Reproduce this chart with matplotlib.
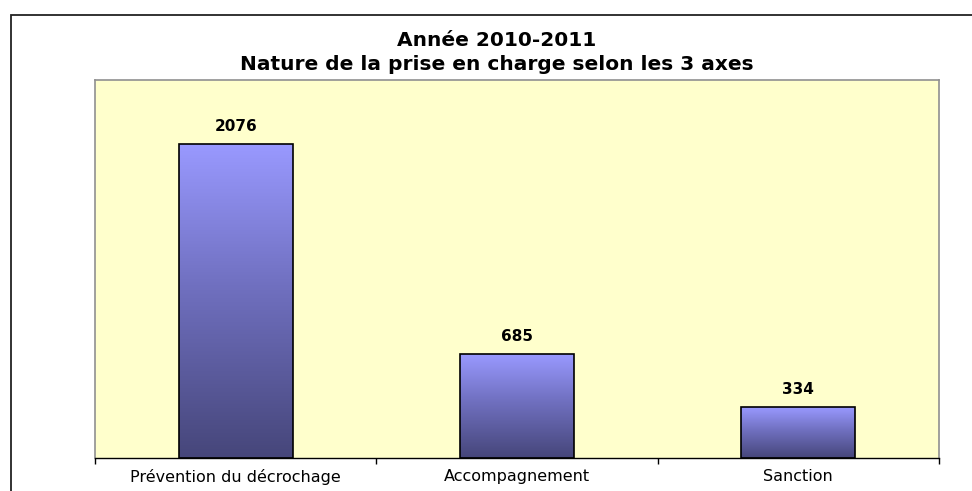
import matplotlib
matplotlib.use("Agg")
import matplotlib.pyplot as plt
import numpy as np
from matplotlib.colors import LinearSegmentedColormap
from matplotlib.patches import Rectangle

categories = ["Prévention du décrochage", "Accompagnement", "Sanction"]
values = [2076, 685, 334]
title_lines = ["Année 2010-2011", "Nature de la prise en charge selon les 3 axes"]

plt.rcParams['font.family'] = ['DejaVu Sans']

fig = plt.figure(figsize=(9.72, 4.91), dpi=100)
fig.patch.set_facecolor('white')
ax = fig.add_axes([95/972, 33/491, (939-95)/972, (458-80)/491])
ax.set_facecolor('#FFFFCC')

x = np.arange(len(categories))
bars = ax.bar(x, values, width=0.405, color='none', edgecolor='black', linewidth=1.2, zorder=3)

cmap = LinearSegmentedColormap.from_list('g', [(0, '#46467A'), (0.55, '#7070C0'), (1, '#9999FF')])
grad = np.linspace(0, 1, 256).reshape(-1, 1)
for b in bars:
    x0 = b.get_x(); w = b.get_width(); h = b.get_height()
    im = ax.imshow(grad, extent=[x0, x0 + w, 0, h], origin='lower', aspect='auto',
                   cmap=cmap, zorder=2)
    im.set_clip_path(b)
    ax.text(x0 + w / 2, h + 2500 * 0.028, f"{int(h)}", ha='center', va='bottom',
            fontsize=11, fontweight='bold', color='black')

ax.set_xlim(-0.5, len(categories) - 0.5)
ax.set_ylim(0, 2500)
ax.set_yticks([])
ax.set_xticks(np.arange(-0.5, len(categories), 1.0))
ax.set_xticklabels([])
ax.set_xticks(x, minor=True)
ax.set_xticklabels(categories, minor=True, fontsize=11.5)
ax.tick_params(axis='x', which='major', direction='out', length=4, width=1, color='black')
ax.tick_params(axis='x', which='minor', length=0, pad=8)
for s in ['top', 'left', 'right']:
    ax.spines[s].set_color('#909090')
    ax.spines[s].set_linewidth(1.2)
ax.spines['bottom'].set_color('black')
ax.spines['bottom'].set_linewidth(1)

fig.text(497/972, 1 - 40/491, title_lines[0], ha='center', va='center', fontsize=14.5, fontweight='bold')
fig.text(497/972, 1 - 64/491, title_lines[1], ha='center', va='center', fontsize=14.5, fontweight='bold')

frame = Rectangle((11/972, -0.2), 1.2, 1 - 15/491 + 0.2, transform=fig.transFigure,
                  fill=False, edgecolor='#222222', linewidth=1.3)
fig.patches.append(frame)

fig.savefig('out.png', dpi=100)
